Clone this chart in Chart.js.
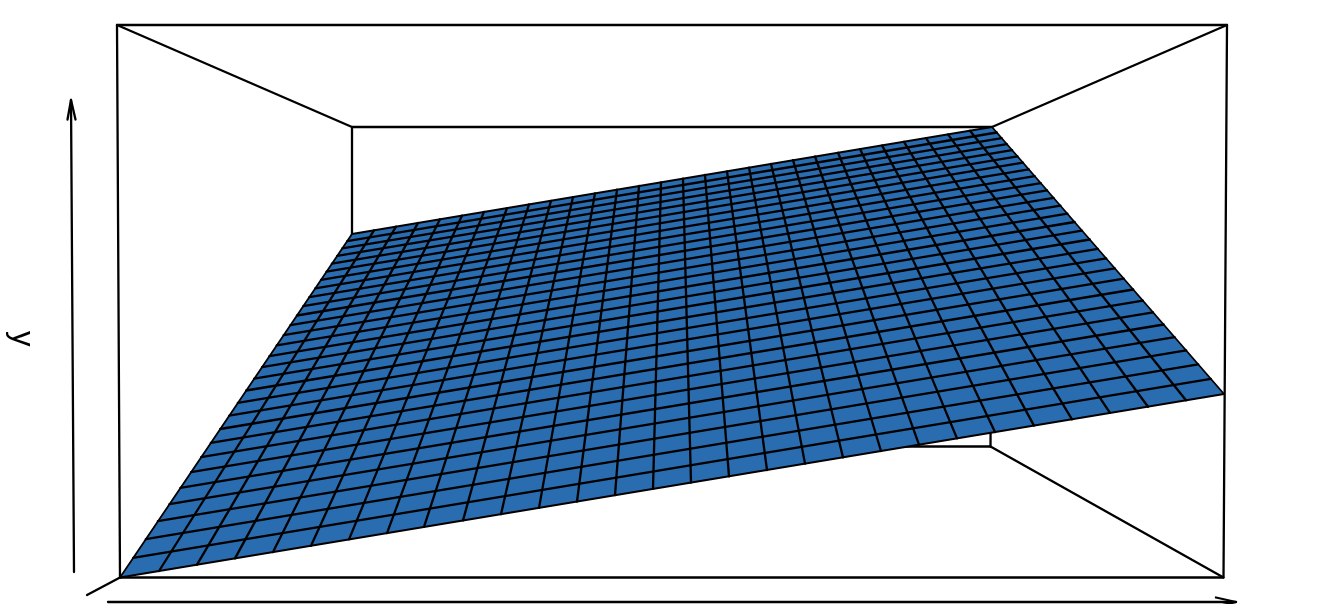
<!DOCTYPE html>
<html>
<head>
<meta charset="utf-8">
<title>Surface</title>
<script src="https://cdn.jsdelivr.net/npm/chart.js@4"></script>
<style>
    html, body { margin: 0; padding: 0; background: #fff; overflow: hidden; }
    canvas { display: block; }
</style>
</head>
<body>
<canvas id="chart" width="1344" height="604"></canvas>
<script>
// surface edge readings, one entry per mesh line
const frontX = [120,159,197,235,273,311,349,387,424,463,501,539,577,615,653,691,729,767,805,843,881,919,957,995,1034,1072,1110,1148,1186,1224]
const frontY = [577.5,571,564.7,558.4,552.1,545.8,539.4,533.1,526.9,520.4,514.2,507.9,501.5,495.2,488.9,482.6,476.3,470,463.6,457.3,451,444.7,438.4,432.1,425.6,419.3,412.9,406.7,400.3,394]
const backX = [352,374,396,418,440,462,484,507,529,551,573,595,617,639,661,683,705,727,749,771,793,815,838,860,882,904,926,948,970,992]
const backY = [234,230.3,226.6,222.9,219.2,215.6,211.9,208.2,204.5,200.8,197.1,193.4,189.7,186,182.3,178.7,175,171.3,167.6,163.9,160.2,156.5,152.8,149.1,145.4,141.8,138.1,134.4,130.7,127]
const leftX = [120,133.2,145.8,157.9,169.4,180.4,191,201.1,210.8,220.2,229.2,237.8,246.2,254.2,262,269.4,276.7,283.6,290.4,296.9,303.2,309.3,315.2,321,326.5,331.9,337.2,342.3,347.2,352]
const leftY = [577.5,557.8,539.1,521.2,504.2,487.9,472.2,457.2,442.8,429,415.7,402.9,390.5,378.7,367.2,356.1,345.4,335.1,325.1,315.5,306.2,297.1,288.4,279.9,271.7,263.7,255.9,248.4,241.1,234]
const rightX = [1224,1210.8,1198.2,1186.2,1174.6,1163.6,1153,1142.9,1133.2,1123.8,1114.8,1106.2,1097.8,1089.8,1082,1074.6,1067.4,1060.4,1053.6,1047.1,1040.8,1034.7,1028.8,1023,1017.5,1012.1,1006.8,1001.7,996.8,992]
const rightY = [394,378.8,364.3,350.4,337.2,324.5,312.3,300.7,289.5,278.7,268.3,258.4,248.8,239.5,230.6,222,213.7,205.7,197.9,190.4,183.2,176.1,169.4,162.7,156.3,150.1,144.1,138.2,132.5,127]

// box corners
const backBoxX = [352,992,990.5,352,352]
const backBoxY = [127,127,446.5,446.5,127]
const wallsX = [[117,352],[1227,992],[1223.5,990.5],[120,352]]
const wallsY = [[25,127],[25,127],[577.5,446.5],[577.5,446.5]]
const frontBoxX = [117,1227,1223.5,120,117]
const frontBoxY = [25,25,577.5,577.5,25]

// axis arrows and the stub at the corner
const yArrowX = [74,71]
const yArrowY = [572,100]
const yHeadX = [67.5,71,75.5]
const yHeadY = [119.5,100,119.5]
const xArrowX = [108,1236]
const xArrowY = [602,602]
const xHeadX = [1216,1236,1216]
const xHeadY = [597.5,602,606.5]
const stubX = [120,87]
const stubY = [577.5,595]
const yLabel = "y"

function line(xs, ys, extra){
    return Object.assign({
        data: xs.map((x, i) => ({x: x, y: ys[i]})),
        showLine: true,
        borderColor: "#000",
        borderWidth: 2.3,
        pointRadius: 0,
        fill: false,
        tension: 0,
        clip: false,
        borderCapStyle: "round",
        borderJoinStyle: "round",
    }, extra)
}

// painted bottom to top
const layers = [line(backBoxX, backBoxY)]
wallsX.forEach((xs, i) => layers.push(line(xs, wallsY[i])))

const last = frontX.length - 1
layers.push(line(
    [frontX[0], frontX[last], backX[last], backX[0], frontX[0]],
    [frontY[0], frontY[last], backY[last], backY[0], frontY[0]],
    {fill: "shape", backgroundColor: "#2a6cb0", borderWidth: 0}
))
for(let i = 0; i <= last; i++){
    // outer edges of the surface are finer than the inner mesh
    const width = (i === 0 || i === last) ? 1.8 : 2.3
    layers.push(line([frontX[i], backX[i]], [frontY[i], backY[i]], {borderWidth: width}))
    layers.push(line([leftX[i], rightX[i]], [leftY[i], rightY[i]], {borderWidth: width}))
}

layers.push(line(frontBoxX, frontBoxY))
layers.push(line(yArrowX, yArrowY))
layers.push(line(yHeadX, yHeadY))
layers.push(line(xArrowX, xArrowY))
layers.push(line(xHeadX, xHeadY))
layers.push(line(stubX, stubY))

const sideLabel = {
    id: "sideLabel",
    afterDraw(chart){
        const ctx = chart.ctx
        ctx.save()
        ctx.translate(12.5, 331)
        ctx.rotate(Math.PI / 2)
        ctx.font = "31px 'Liberation Sans'"
        ctx.fillStyle = "#000"
        ctx.textAlign = "left"
        ctx.textBaseline = "alphabetic"
        ctx.fillText(yLabel, 0, 0)
        ctx.restore()
    }
}

new Chart(document.getElementById("chart").getContext("2d"), {
    type: "scatter",
    data: { datasets: layers.reverse() },
    options: {
        responsive: false,
        animation: false,
        events: [],
        layout: { padding: 0 },
        plugins: { legend: { display: false }, tooltip: { enabled: false } },
        scales: {
            x: { type: "linear", display: false, min: 0, max: 1344 },
            y: { type: "linear", display: false, min: 0, max: 604, reverse: true },
        },
    },
    plugins: [sideLabel],
})
</script>
</body>
</html>
